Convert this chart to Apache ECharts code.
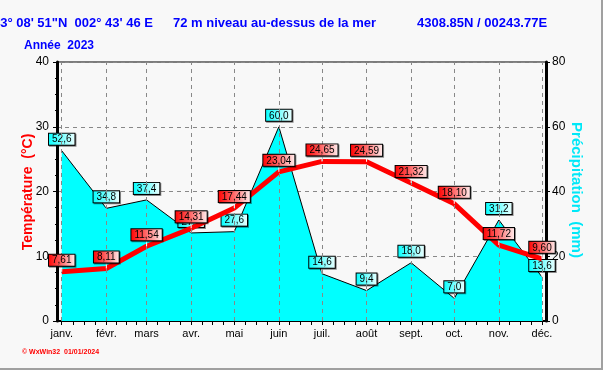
<!DOCTYPE html>
<html><head><meta charset="utf-8">
<script src="https://cdn.jsdelivr.net/npm/echarts@6/dist/echarts.min.js"></script>
<style>html,body{margin:0;padding:0;background:#f8f8f8}#c{width:603px;height:370px}</style>
</head><body><div id="c"></div>
<script>
const months = ['janv.','févr.','mars','avr.','mai','juin','juil.','août','sept.','oct.','nov.','déc.'];
const monthDates = ['2023-01-01','2023-02-01','2023-03-01','2023-04-01','2023-05-01','2023-06-01','2023-07-01','2023-08-01','2023-09-01','2023-10-01','2023-11-01','2023-12-01'];
const temperature = [7.61, 8.11, 11.54, 14.31, 17.44, 23.04, 24.65, 24.59, 21.32, 18.10, 11.72, 9.60];
const precipitation = [52.6, 34.8, 37.4, 27.2, 27.6, 60.0, 14.6, 9.4, 18.0, 7.0, 31.2, 13.6];
const tempTicks = [0, 10, 20, 30, 40];
const precipTicks = [0, 20, 40, 60, 80];

const DAY = 86400000;
const t0 = Date.parse(monthDates[0]);
const days = monthDates.map(d => Math.round((Date.parse(d) - t0) / DAY));
const tickVals = [];
for (let i = 0; i < days.length; i++) {
  tickVals.push(days[i]);
  if (i < days.length - 1) {
    const len = days[i + 1] - days[i];
    for (let k = 1; k < 4; k++) tickVals.push(days[i] + len * k / 4);
  }
}
const G = echarts.graphic;
const redGrad = new G.LinearGradient(0, 0, 1, 0, [{offset: 0, color: '#ff0000'}, {offset: 0.45, color: '#ff6060'}, {offset: 1, color: '#fff0f0'}]);
const cyanGrad = new G.LinearGradient(0, 0, 1, 0, [{offset: 0, color: '#00ffff'}, {offset: 1, color: '#f0ffff'}]);
const labelBase = {
  show: true, position: 'top', distance: 0, opacity: 1,
  color: '#000', fontSize: 10, fontFamily: '"Liberation Sans", Arial, sans-serif',
  lineHeight: 10, padding: [1, 3, 0, 3], borderColor: '#000', borderWidth: 1,
  shadowColor: 'rgba(0,0,0,0.45)', shadowOffsetX: 1, shadowOffsetY: 1, shadowBlur: 0,
  textShadowColor: 'transparent', textShadowBlur: 0
};
const tempPts = days.map((d, i) => [d, temperature[i]]);
const precPts = days.map((d, i) => [d, precipitation[i]]);

const chart = echarts.init(document.getElementById('c'), null, {renderer: 'canvas'});
chart.setOption({
  backgroundColor: '#f8f8f8',
  animation: false,
  grid: {left: 57, right: 57, top: 62, bottom: 49, show: true, borderColor: '#000', borderWidth: 1, backgroundColor: 'transparent'},
  xAxis: {
    type: 'value', min: -3.3, max: 336.8,
    axisLine: {show: true, onZero: false, lineStyle: {color: '#000', width: 2}},
    axisTick: {show: true, customValues: tickVals, length: 4, lineStyle: {color: '#000'}},
    axisLabel: {show: true, customValues: days, margin: 7, color: '#000', fontSize: 11,
      fontFamily: '"Liberation Sans", Arial, sans-serif',
      formatter: v => { const i = days.indexOf(Math.round(v)); return i >= 0 ? months[i] : ''; }},
    splitLine: {show: false}
  },
  yAxis: [{
    type: 'value', min: tempTicks[0], max: tempTicks[tempTicks.length - 1], interval: 10,
    axisLine: {show: true, onZero: false, lineStyle: {color: '#000', width: 3}},
    axisTick: {show: true, length: 4, lineStyle: {color: '#000'}},
    minorTick: {show: true, splitNumber: 4, length: 2, lineStyle: {color: '#000'}},
    axisLabel: {margin: 8, color: '#000', fontSize: 12, fontFamily: '"Liberation Sans", Arial, sans-serif'},
    splitLine: {show: true, lineStyle: {color: '#888', type: [4, 4], width: 1}}
  }, {
    type: 'value', position: 'right', min: precipTicks[0], max: precipTicks[precipTicks.length - 1], interval: 20,
    axisLine: {show: true, onZero: false, lineStyle: {color: '#000', width: 3}},
    axisTick: {show: true, length: 4, lineStyle: {color: '#000'}},
    minorTick: {show: true, splitNumber: 4, length: 2, lineStyle: {color: '#000'}},
    axisLabel: {margin: 6, color: '#000', fontSize: 12, fontFamily: '"Liberation Sans", Arial, sans-serif'},
    splitLine: {show: false}
  }],
  series: [
    {
      type: 'line', yAxisIndex: 0, data: tempPts, symbol: 'none', silent: true, z: 1,
      lineStyle: {opacity: 0},
      markLine: {silent: true, symbol: 'none', label: {show: false}, animation: false,
        lineStyle: {color: '#888', type: [4, 4], width: 1},
        data: days.map(d => ({xAxis: d}))}
    },
    {
      type: 'line', yAxisIndex: 1, data: precPts, symbol: 'none', z: 2,
      lineStyle: {color: '#000', width: 1},
      areaStyle: {color: '#00ffff', opacity: 1}
    },
    {
      type: 'scatter', yAxisIndex: 1, data: precPts, z: 3, silent: true,
      symbol: 'rect', symbolSize: [1, 6], symbolOffset: [0, -3],
      itemStyle: {color: '#ffffff', opacity: 1},
      emphasis: {disabled: true},
      label: Object.assign({}, labelBase, {backgroundColor: cyanGrad,
        formatter: p => p.value[1].toFixed(1).replace('.', ',')})
    },
    {
      type: 'line', yAxisIndex: 0, data: tempPts, symbol: 'none', z: 4,
      lineStyle: {color: '#ff0000', width: 5}
    },
    {
      type: 'scatter', yAxisIndex: 0, data: tempPts, z: 5, silent: true,
      symbol: 'rect', symbolSize: [1, 6], symbolOffset: [0, -3],
      itemStyle: {color: '#ffffff', opacity: 1},
      emphasis: {disabled: true},
      label: Object.assign({}, labelBase, {backgroundColor: redGrad,
        formatter: p => p.value[1].toFixed(2).replace('.', ',')})
    }
  ],
  graphic: [
    {type: 'text', x: 153, y: 23, style: {text: '43° 08\' 51"N  002° 43\' 46 E', textAlign: 'right', textVerticalAlign: 'middle', font: 'bold 13px "Liberation Sans", Arial', fill: '#0000ff'}},
    {type: 'text', x: 173, y: 23, style: {text: '72 m niveau au-dessus de la mer', textAlign: 'left', textVerticalAlign: 'middle', font: 'bold 13px "Liberation Sans", Arial', fill: '#0000ff'}},
    {type: 'text', x: 417, y: 23, style: {text: '4308.85N / 00243.77E', textAlign: 'left', textVerticalAlign: 'middle', font: 'bold 13px "Liberation Sans", Arial', fill: '#0000ff'}},
    {type: 'text', x: 24, y: 46, style: {text: 'Année  2023', textAlign: 'left', textVerticalAlign: 'middle', font: 'bold 12px "Liberation Sans", Arial', fill: '#0000ff'}},
    {type: 'text', x: 28, y: 192, rotation: Math.PI / 2, style: {text: 'Température  (°C)', textAlign: 'center', textVerticalAlign: 'middle', font: 'bold 14px "Liberation Sans", Arial', fill: '#ff0000'}},
    {type: 'text', x: 576, y: 190, rotation: -Math.PI / 2, style: {text: 'Précipitation  (mm)', textAlign: 'center', textVerticalAlign: 'middle', font: 'bold 15px "Liberation Sans", Arial', fill: '#00e8f8'}},
    {type: 'text', x: 22, y: 352, style: {text: '© WxWin32  01/01/2024', textAlign: 'left', textVerticalAlign: 'middle', font: 'bold 7px "Liberation Sans", Arial', fill: '#ff0000'}},
    {type: 'line', shape: {x1: 0, y1: 369, x2: 603, y2: 369}, style: {stroke: '#a0a0a0', lineWidth: 2}},
    {type: 'line', shape: {x1: 602, y1: 0, x2: 602, y2: 370}, style: {stroke: '#a0a0a0', lineWidth: 2}}
  ]
});
</script></body></html>
